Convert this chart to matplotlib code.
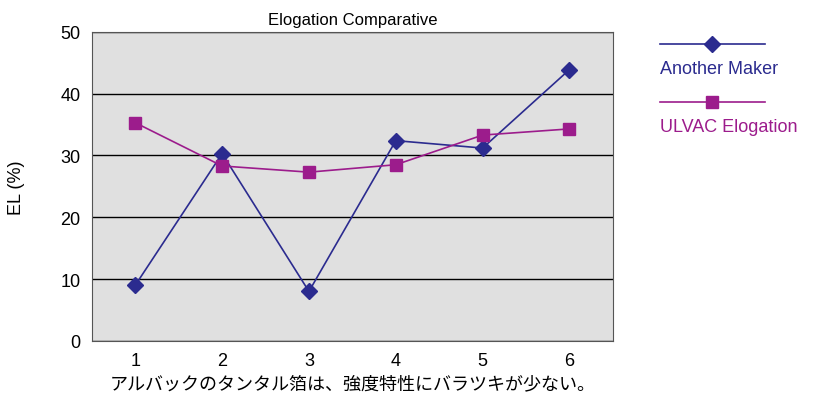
import matplotlib
matplotlib.use("Agg")
import matplotlib.pyplot as plt
from matplotlib.lines import Line2D

plt.rcParams["font.family"] = "Liberation Sans"

categories = [1, 2, 3, 4, 5, 6]
another_maker = [9.0, 30.3, 8.0, 32.4, 31.2, 43.9]
ulvac = [35.3, 28.3, 27.3, 28.5, 33.3, 34.3]
yticks = [0, 10, 20, 30, 40, 50]

c1 = "#2B2B8F"
c2 = "#9C1C8C"
fig = plt.figure(figsize=(8.35, 4.06), dpi=100)
ax = fig.add_axes([0.110, 0.158, 0.624, 0.761])
ax.set_facecolor("#E0E0E0")
ax.plot(categories, another_maker, color=c1, marker="D", markersize=8, lw=1.2)
ax.plot(categories, ulvac, color=c2, marker="s", markersize=8, lw=1.2)
ax.set_xlim(0.5, 6.5)
ax.set_ylim(0, 50)
ax.set_yticks(yticks)
ax.set_xticks(categories)
ax.yaxis.grid(True, color="black", lw=1)
ax.set_axisbelow(True)
ax.tick_params(labelsize=13, length=0, pad=8)
for s in ax.spines.values():
    s.set_color("#555555")
ax.set_title("Elogation Comparative", fontsize=12, pad=6)
ax.set_ylabel("EL (%)", fontsize=13, labelpad=26)
ax.set_xlabel("アルバックのタンタル箔は、強度特性にバラツキが少ない。",
              fontsize=13, family="Noto Sans CJK JP", labelpad=4)

def leg(y, color, marker, label):
    fig.add_artist(Line2D([660/835, 765/835], [y, y], color=color, lw=1.2,
                          transform=fig.transFigure))
    fig.add_artist(Line2D([712/835], [y], color=color, marker=marker,
                          markersize=8, transform=fig.transFigure))
    fig.text(660/835, y - 0.06, label, color=color, fontsize=13, va="center")

leg(1 - 45/406, c1, "D", "Another Maker")
leg(1 - 103/406, c2, "s", "ULVAC Elogation")
fig.savefig("out.png", dpi=100)
